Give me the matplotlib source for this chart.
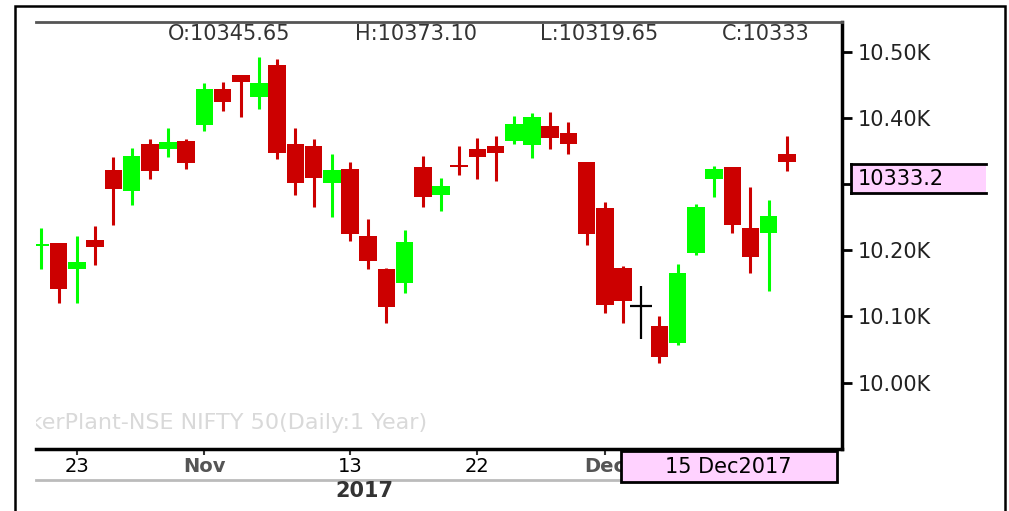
import matplotlib
matplotlib.use("Agg")
import matplotlib.pyplot as plt
from matplotlib.patches import Rectangle
from matplotlib.lines import Line2D
from matplotlib.ticker import FixedLocator, FuncFormatter

# ==============================
# DATA (NSE NIFTY 50, daily, Oct-Dec 2017)
# ==============================
opens = [10206, 10211, 10172, 10215.5, 10322, 10290, 10361, 10353, 10365.5, 10389,
         10443, 10464.8, 10432, 10480, 10360.6, 10358, 10302, 10322.3, 10222, 10171.3,
         10150, 10325.4, 10283.5, 10328.8, 10352.6, 10358, 10365.5, 10359, 10387.8, 10376.7,
         10333.8, 10264.4, 10173.7, 10115.9, 10086, 10059.5, 10196.4, 10307.7, 10325.4, 10234,
         10226.6, 10345.65]
highs = [10233, 10211, 10222, 10237, 10340.5, 10355, 10367.7, 10385, 10367.7, 10452,
         10454.7, 10464.8, 10491.5, 10488.5, 10385, 10367.7, 10345.5, 10333.8, 10246.8, 10174,
         10230.7, 10343, 10309.7, 10358, 10370, 10373, 10403, 10407, 10409.4, 10394,
         10333.8, 10273.4, 10176, 10146.5, 10101, 10180, 10270, 10327.8, 10325.4, 10295,
         10276, 10373.10]
lows = [10172, 10120, 10120, 10178, 10238, 10268.4, 10307.7, 10341.4, 10322.8, 10380.7,
        10410.4, 10401.8, 10413.4, 10338, 10283.5, 10265.9, 10250.8, 10214, 10171.8, 10090,
        10135, 10265.9, 10259.4, 10313.7, 10307.7, 10304.7, 10360, 10339, 10353, 10345,
        10208, 10105.7, 10090.6, 10066, 10029, 10057, 10193, 10281, 10226.6, 10166,
        10139, 10319.65]
closes = [10210, 10141.5, 10183, 10205.5, 10292.5, 10343, 10320, 10364, 10332, 10443,
          10423.6, 10453.8, 10452, 10347.4, 10302, 10308.8, 10321.3, 10224, 10183.8, 10114,
          10213, 10281, 10297.6, 10325.4, 10341.4, 10347.4, 10390.8, 10401, 10369, 10360,
          10224, 10117.4, 10124, 10115.9, 10039, 10165, 10265, 10322.3, 10238, 10190,
          10252.3, 10333]

tick_idx = [2, 9, 17, 24, 31]
tick_labels = ["23", "Nov", "13", "22", "Dec"]
price_ticks = [10000, 10100, 10200, 10300, 10400, 10500]
hidden_tick = 10300  # label sits under the last-price box

ohlc_labels = ["O:10345.65", "H:10373.10", "L:10319.65", "C:10333"]
last_price = "10333.2"
last_date = "15 Dec2017"
year_label = "2017"
watermark = "TickerPlant-NSE NIFTY 50(Daily:1 Year)"

# ==============================
# CONFIG
# ==============================
W, H = 1009, 511
RED = "#cc0000"
GREEN = "#00ff00"
PINK = "#ffd2ff"


def fx(x):
    return x / W


def fy(y):
    return 1 - y / H


def price_fmt(v, pos):
    if abs(v - hidden_tick) < 1:
        return ""
    return f"{v / 1000:.2f}K"


def main():
    plt.rcParams["font.family"] = "DejaVu Sans"
    fig = plt.figure(figsize=(W / 100, H / 100), dpi=100)
    ax = fig.add_axes([fx(36), fy(449), fx(842) - fx(36), fy(22) - fy(449)])

    # ------------------------------
    # Candles
    # ------------------------------
    for i, (o, h, l, c) in enumerate(zip(opens, highs, lows, closes)):
        if o == c:
            ax.vlines(i, l, h, colors="black", lw=1.6, zorder=2)
            ax.hlines(o, i - 0.6, i + 0.6, colors="black", lw=1.6, zorder=2)
            continue
        col = GREEN if c > o else RED
        ax.vlines(i, l, h, colors=col, lw=2.2, zorder=2)
        ax.bar(i, abs(c - o), bottom=min(o, c), width=0.96, color=col, lw=0, zorder=3)

    ax.set_xlim(-0.25, 44.03)
    ax.set_ylim(9899.8, 10544.9)

    # ------------------------------
    # Axes styling
    # ------------------------------
    ax.spines["left"].set_visible(False)
    ax.spines["top"].set_color("#555555")
    ax.spines["top"].set_linewidth(2)
    ax.spines["right"].set_linewidth(2.5)
    ax.spines["bottom"].set_linewidth(2.5)

    ax.yaxis.set_major_locator(FixedLocator(price_ticks))
    ax.yaxis.set_major_formatter(FuncFormatter(price_fmt))
    ax.tick_params(axis="y", left=False, right=True, labelleft=False, labelright=True,
                   length=7, width=2, pad=4, labelsize=15, labelcolor="#222222")

    ax.set_xticks(tick_idx)
    ax.set_xticklabels(tick_labels)
    ax.tick_params(axis="x", length=4, width=1.5, pad=2, labelsize=14, color="#333333")
    for lab in ax.get_xticklabels():
        if lab.get_text() in ("Nov", "Dec"):
            lab.set_fontweight("bold")
            lab.set_color("#555555")

    # watermark (clipped at the left edge of the plot)
    ax.text(fx(-2), fy(423), watermark, transform=fig.transFigure, ha="left", va="center",
            fontsize=16, color="#d9d9d9", zorder=1, clip_on=True)

    # OHLC header
    for txt, xp in zip(ohlc_labels, [168, 355, 540, 722]):
        ax.text(fx(xp), fy(34), txt, transform=fig.transFigure, ha="left", va="center",
                fontsize=15, color="#333333", zorder=5)

    # ------------------------------
    # Figure decorations
    # ------------------------------
    fig.add_artist(Rectangle((fx(15), fy(520)), fx(1005) - fx(15), fy(6) - fy(520),
                             transform=fig.transFigure, fill=False, ec="black", lw=1.8))
    fig.add_artist(Line2D([fx(36), fx(620)], [fy(480), fy(480)], transform=fig.transFigure,
                          color="#bbbbbb", lw=2))
    fig.text(fx(364), fy(491), year_label, ha="center", va="center", fontsize=15,
             fontweight="bold", color="#333333")

    # date box
    fig.add_artist(Rectangle((fx(621), fy(482)), fx(837) - fx(621), fy(451) - fy(482),
                             transform=fig.transFigure, fc=PINK, ec="black", lw=2, zorder=4))
    fig.text(fx(728), fy(466.5), last_date, ha="center", va="center", fontsize=15,
             color="black", zorder=5)

    # last price box
    fig.add_artist(Rectangle((fx(851), fy(193)), fx(986) - fx(851), fy(164) - fy(193),
                             transform=fig.transFigure, fc=PINK, lw=0, zorder=4))
    for xs, ys in [([851, 851], [164, 193]), ([851, 986], [164, 164]), ([851, 986], [193, 193])]:
        fig.add_artist(Line2D([fx(v) for v in xs], [fy(v) for v in ys],
                              transform=fig.transFigure, color="black", lw=2, zorder=5))
    fig.text(fx(858), fy(178.5), last_price, ha="left", va="center", fontsize=15,
             color="black", zorder=6)

    fig.savefig("out.png", dpi=100)
    plt.close(fig)


if __name__ == "__main__":
    main()
